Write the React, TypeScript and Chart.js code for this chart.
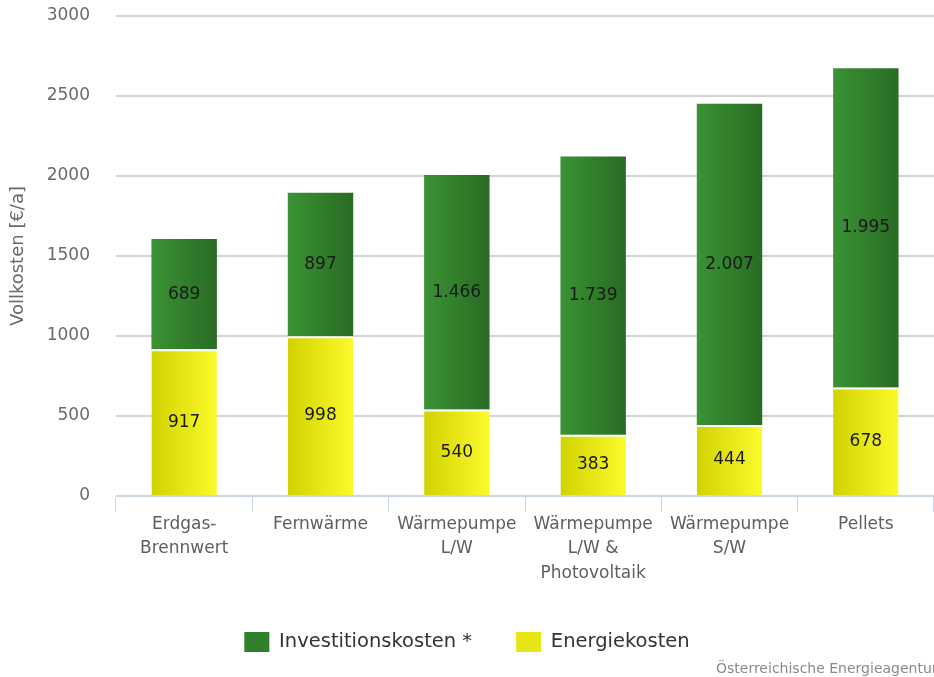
import React, { useEffect, useRef } from "react";
import { Chart, registerables } from "chart.js";

Chart.register(...registerables);

const categories: string[][] = [
  ["Erdgas-", "Brennwert"],
  ["Fernwärme"],
  ["Wärmepumpe", "L/W"],
  ["Wärmepumpe", "L/W &", "Photovoltaik"],
  ["Wärmepumpe", "S/W"],
  ["Pellets"],
];
const energiekosten: number[] = [917, 998, 540, 383, 444, 678];
const investitionskosten: number[] = [689, 897, 1466, 1739, 2007, 1995];
const yTicks: number[] = [0, 500, 1000, 1500, 2000, 2500, 3000];

const FONT = "'DejaVu Sans', sans-serif";
const BAR_PCT = 0.48;

function fmt(v: number): string {
  return String(v).replace(/\B(?=(\d{3})+(?!\d))/g, ".");
}

function barGradient(c0: string, c1: string) {
  return (ctx: any) => {
    const chart = ctx.chart;
    const xs = chart.scales && chart.scales.x;
    if (!xs || ctx.dataIndex === undefined || !chart.chartArea) return c1;
    const cx = xs.getPixelForValue(ctx.dataIndex);
    const w = (chart.chartArea.width / categories.length) * BAR_PCT;
    const g = chart.ctx.createLinearGradient(cx - w / 2, 0, cx + w / 2, 0);
    g.addColorStop(0, c0);
    g.addColorStop(1, c1);
    return g;
  };
}

const valueLabels = {
  id: "valueLabels",
  afterDatasetsDraw(chart: any) {
    const ctx = chart.ctx;
    ctx.save();
    ctx.font = `17px ${FONT}`;
    ctx.fillStyle = "#1a1a1a";
    ctx.textAlign = "center";
    ctx.textBaseline = "middle";
    chart.data.datasets.forEach((ds: any, di: number) => {
      const meta = chart.getDatasetMeta(di);
      meta.data.forEach((el: any, i: number) => {
        const y = (el.y + el.base) / 2;
        ctx.fillText(fmt(ds.data[i]), el.x, y);
      });
    });
    ctx.restore();
  },
};

const credit = {
  id: "credit",
  afterDraw(chart: any) {
    const ctx = chart.ctx;
    ctx.save();
    ctx.font = `14px ${FONT}`;
    ctx.fillStyle = "#8a8a8a";
    ctx.textAlign = "left";
    ctx.textBaseline = "alphabetic";
    ctx.fillText("Österreichische Energieagentur", 716, 673);
    ctx.restore();
  },
};

export default function App() {
  const ref = useRef<HTMLCanvasElement>(null);
  useEffect(() => {
    document.body.style.margin = "0";
    const canvas = ref.current!;
    const chart = new Chart(canvas, {
      type: "bar",
      data: {
        labels: categories,
        datasets: [
          {
            label: "Energiekosten",
            data: energiekosten,
            backgroundColor: barGradient("#d2d200", "#fbfb2c"),
            borderColor: "#ffffff",
            borderWidth: { top: 2, left: 0, right: 0, bottom: 0 },
            borderSkipped: false,
            categoryPercentage: 1,
            barPercentage: BAR_PCT,
          },
          {
            label: "Investitionskosten *",
            data: investitionskosten,
            backgroundColor: barGradient("#3a9334", "#296b24"),
            borderWidth: 0,
            categoryPercentage: 1,
            barPercentage: BAR_PCT,
          },
        ],
      },
      options: {
        responsive: false,
        animation: false,
        maintainAspectRatio: false,
        layout: { padding: { left: 0, right: 0, top: 16, bottom: 15 } },
        plugins: {
          tooltip: { enabled: false },
          legend: {
            position: "bottom",
            labels: {
              boxWidth: 25,
              boxHeight: 20,
              padding: 44,
              color: "#333333",
              font: { family: FONT, size: 19.5 },
              sort: (a: any, b: any) => b.datasetIndex - a.datasetIndex,
              generateLabels: (chart: any) =>
                chart.data.datasets.map((ds: any, i: number) => ({
                  text: ds.label,
                  fillStyle: i === 0 ? "#e6e614" : "#30802b",
                  strokeStyle: "rgba(0,0,0,0)",
                  lineWidth: 0,
                  hidden: false,
                  datasetIndex: i,
                  fontColor: "#333333",
                })),
            },
          },
        },
        scales: {
          x: {
            stacked: true,
            grid: {
              offset: true,
              drawOnChartArea: false,
              drawTicks: true,
              tickLength: 16,
              color: "#c9d5e1",
              lineWidth: 1,
            },
            border: { display: true, color: "#c9d5e1", width: 1 },
            ticks: {
              color: "#5e5e5e",
              font: { family: FONT, size: 17, lineHeight: 1.45 },
              padding: 0,
              maxRotation: 0,
              autoSkip: false,
            },
            afterFit: (s: any) => {
              s.height = 92;
            },
          },
          y: {
            stacked: true,
            min: 0,
            max: 3000,
            afterBuildTicks: (s: any) => {
              s.ticks = yTicks.map((v) => ({ value: v }));
            },
            ticks: {
              color: "#6a6a6a",
              font: { family: FONT, size: 17 },
              padding: 2,
              callback: (v: any) => String(v),
            },
            grid: {
              color: "#d4d4d4",
              lineWidth: 2,
              drawTicks: true,
              tickLength: 24,
              tickColor: "rgba(0,0,0,0)",
            },
            border: { display: false },
            title: {
              display: true,
              text: "Vollkosten [€/a]",
              color: "#6a6a6a",
              font: { family: FONT, size: 18 },
              padding: { top: 8, bottom: 0 },
            },
            afterFit: (s: any) => {
              s.width = 116;
            },
          },
        },
      },
      plugins: [valueLabels, credit],
    });
    return () => chart.destroy();
  }, []);
  return (
    <div style={{ width: 934, height: 677, background: "#fff" }}>
      <canvas ref={ref} width={934} height={677} style={{ display: "block" }} />
    </div>
  );
}
